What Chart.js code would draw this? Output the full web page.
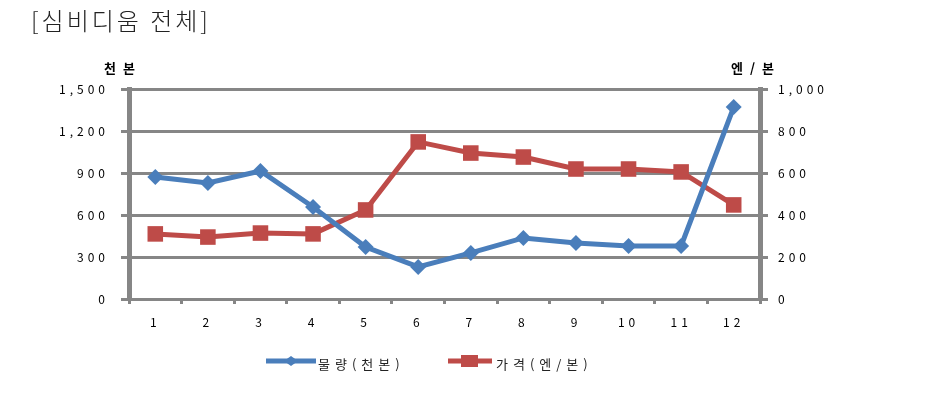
<!DOCTYPE html>
<html>
<head>
<meta charset="utf-8">
<script src="https://cdn.jsdelivr.net/npm/chart.js@4.4.1/dist/chart.umd.min.js"></script>
<style>
	html, body { margin: 0; padding: 0; background: #fff; }
	#wrap { width: 940px; height: 402px; }
</style>
</head>
<body>
<div id="wrap"><canvas id="chart" width="940" height="402"></canvas></div>
<script>
const chartTitle = '[심비디움 전체]';
const leftAxisTitle = '천 본';
const rightAxisTitle = '엔 / 본';
const months = ['1', '2', '3', '4', '5', '6', '7', '8', '9', '10', '11', '12'];
const volumeLabel = '물량(천본)';
const priceLabel = '가격(엔/본)';
// 물량 (thousand stems), left axis
const volume = [871, 829, 914, 657, 371, 229, 329, 436, 400, 379, 379, 1371];
// 가격 (yen per stem), right axis
const price = [310, 295, 314, 310, 424, 748, 695, 676, 619, 619, 605, 448];

const BLUE = '#4A7EBB';
const RED = '#BE4B48';
const GRID = '#868686';
const FONT = '"Noto Sans CJK KR", "Noto Sans", sans-serif';

// Spaced out glyphs like the original office chart.
const letterSpacingPlugin = {
	id: 'letterSpacing',
	beforeUpdate( chart ) { chart.ctx.letterSpacing = '4px'; },
	beforeDraw( chart ) { chart.ctx.letterSpacing = '4px'; }
};

// Title, axis captions and a legend drawn in the office style.
const decorPlugin = {
	id: 'decor',
	afterDraw( chart ) {
		const ctx = chart.ctx;
		ctx.save();
		ctx.fillStyle = '#222';
		ctx.textBaseline = 'middle';

		ctx.letterSpacing = '3px';
		ctx.font = '300 24px ' + FONT;
		ctx.textAlign = 'left';
		ctx.fillText( chartTitle, 31, 21 );

		ctx.letterSpacing = '2px';
		ctx.font = 'bold 13px ' + FONT;
		ctx.fillStyle = '#000';
		ctx.fillText( leftAxisTitle, 104, 68 );
		ctx.fillText( rightAxisTitle, 731, 68 );

		// legend
		const y = 361;
		ctx.font = '13px ' + FONT;
		ctx.letterSpacing = '5px';
		ctx.lineWidth = 5;

		ctx.strokeStyle = BLUE;
		ctx.beginPath(); ctx.moveTo( 266, y ); ctx.lineTo( 316, y ); ctx.stroke();
		ctx.fillStyle = BLUE;
		ctx.beginPath();
		ctx.moveTo( 291 - 7, y ); ctx.lineTo( 291, y - 5 ); ctx.lineTo( 291 + 7, y ); ctx.lineTo( 291, y + 5 );
		ctx.closePath(); ctx.fill();
		ctx.fillStyle = '#222';
		ctx.fillText( chart.data.datasets[0].label, 318, y + 3 );

		ctx.strokeStyle = RED;
		ctx.beginPath(); ctx.moveTo( 448, y ); ctx.lineTo( 492, y ); ctx.stroke();
		ctx.fillStyle = RED;
		ctx.fillRect( 461, y - 6, 17, 12 );
		ctx.fillStyle = '#222';
		ctx.fillText( chart.data.datasets[1].label, 496, y + 3 );
		ctx.restore();
	}
};

const tickFont = { family: FONT, size: 12 };

new Chart( document.getElementById( 'chart' ), {
	type: 'line',
	data: {
		labels: months,
		datasets: [
			{
				label: volumeLabel,
				data: volume,
				yAxisID: 'y',
				borderColor: BLUE,
				backgroundColor: BLUE,
				borderWidth: 5,
				pointStyle: 'rectRot',
				pointRadius: 8,
				pointBorderWidth: 0,
				tension: 0
			},
			{
				label: priceLabel,
				data: price,
				yAxisID: 'y1',
				borderColor: RED,
				backgroundColor: RED,
				borderWidth: 5,
				pointStyle: 'rect',
				pointRadius: 11,
				pointBorderWidth: 0,
				tension: 0
			}
		]
	},
	options: {
		responsive: false,
		animation: false,
		layout: { padding: { top: 89, left: 0, right: 0, bottom: 63 } },
		plugins: {
			legend: { display: false },
			title: { display: false },
			tooltip: { enabled: false }
		},
		scales: {
			x: {
				offset: true,
				afterFit( scale ) { scale.height = 40; },
				grid: {
					offset: true,
					drawOnChartArea: false,
					color: GRID,
					lineWidth: 3,
					tickLength: 5
				},
				border: { display: true, color: GRID, width: 3 },
				ticks: { color: '#000', font: tickFont, padding: 11, maxRotation: 0 }
			},
			y: {
				position: 'left',
				min: 0,
				max: 1500,
				afterFit( scale ) { scale.width = 129; },
				grid: { color: GRID, lineWidth: 3, tickLength: 8, tickColor: GRID },
				border: { display: true, color: GRID, width: 5 },
				ticks: {
					stepSize: 300,
					color: '#000',
					font: tickFont,
					padding: 12,
					callback: ( v ) => v.toLocaleString( 'en-US' )
				}
			},
			y1: {
				position: 'right',
				min: 0,
				max: 1000,
				afterFit( scale ) { scale.width = 180; },
				grid: { drawOnChartArea: false, color: GRID, lineWidth: 3, tickLength: 8, tickColor: GRID },
				border: { display: true, color: GRID, width: 5 },
				ticks: {
					stepSize: 200,
					color: '#000',
					font: tickFont,
					padding: 10,
					callback: ( v ) => v.toLocaleString( 'en-US' )
				}
			}
		}
	},
	plugins: [ letterSpacingPlugin, decorPlugin ]
} );
</script>
</body>
</html>
